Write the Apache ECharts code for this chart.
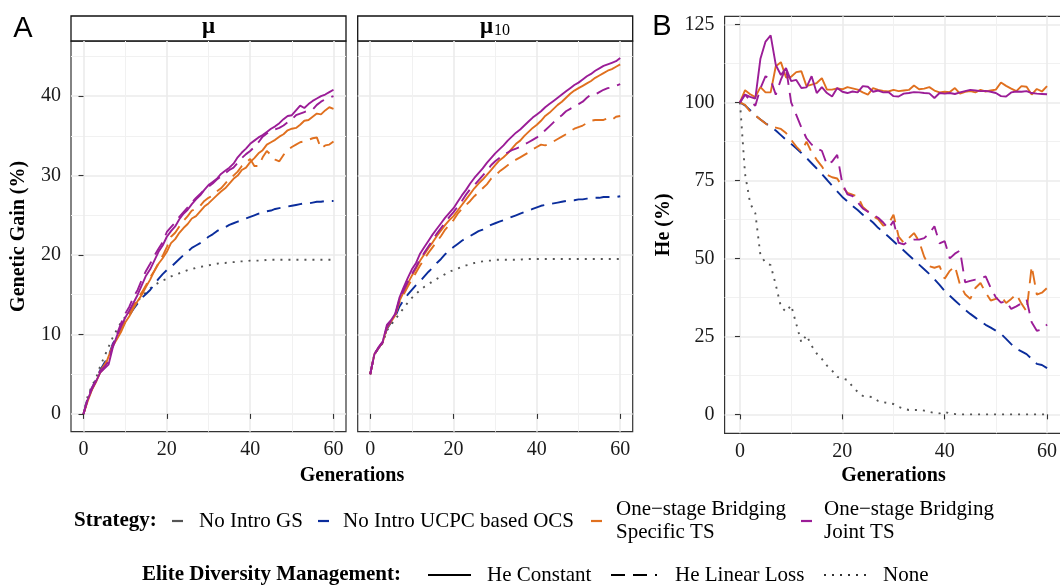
<!DOCTYPE html>
<html><head><meta charset="utf-8">
<script src="https://cdn.jsdelivr.net/npm/echarts@6/dist/echarts.min.js"></script>
<style>html,body{margin:0;padding:0;background:#fff}#c{width:1060px;height:586px}</style>
</head><body><div id="c"></div>
<script>
// ---------------- DATA ----------------
const generations = [0,1,2,3,4,5,6,7,8,9,10,11,12,13,14,15,16,17,18,19,20,21,22,23,24,25,26,27,28,29,30,31,32,33,34,35,36,37,38,39,40,41,42,43,44,45,46,47,48,49,50,51,52,53,54,55,56,57,58,59,60];
const xTickValues = [0,20,40,60];
const xMinorValues = [10,30,50];
const yTickValuesA = [0,10,20,30,40];
const yMinorValuesA = [5,15,25,35,45];
const yTickValuesB = [0,25,50,75,100,125];
const yMinorValuesB = [12.5,37.5,62.5,87.5,112.5];

// Panel A, facet mu : Genetic Gain (%)
const muGS = [0,2.2,3.5,4.5,6.0,7.2,8.4,9.6,10.6,11.5, 12.2,12.9,13.6,14.2,14.8,15.3,15.8,16.2,16.5,16.8, 17.0,17.3,17.5,17.7,17.9,18.1,18.2,18.4,18.5,18.6, 18.7,18.8,18.9,19.0,19.0,19.1,19.1,19.2,19.2,19.2, 19.3,19.3,19.3,19.3,19.4,19.4,19.4,19.4,19.4,19.4, 19.4,19.4,19.4,19.4,19.4,19.4,19.4,19.4,19.4,19.4, 19.4];
const muOCS = [0,2.0,3.2,4.3,5.5,6.4,7.2,8.8,9.7,10.6, 11.6,12.4,13.2,13.9,14.6,15.1,15.6,16.3,17.0,17.6, 18.1,18.5,19.0,19.5,20.0,20.4,20.9,21.2,21.5,21.9, 22.3,22.6,23.0,23.3,23.5,23.8,24.0,24.2,24.4,24.6, 24.8,25.0,25.2,25.3,25.5,25.6,25.8,25.9,26.0,26.1, 26.2,26.3,26.4,26.5,26.5,26.6,26.7,26.7,26.8,26.8, 26.8];
const muSpecificConst = [0,1.6,3.0,4.0,5.2,5.8,7.2,8.5,9.4,10.3, 11.5,12.3,13.3,14.2,15.0,16.0,16.9,18.0,18.9,19.6, 20.4,21.5,22.0,22.8,23.4,23.9,24.6,24.9,25.5,26.1, 26.5,27.0,27.5,28.0,28.4,29.0,29.6,30.0,30.7,31.0, 31.7,32.2,32.8,33.2,33.9,34.2,34.5,34.9,35.2,35.7, 35.9,36.0,36.4,36.9,37.0,37.4,37.8,37.7,38.2,38.6, 38.4];
const muSpecificLinear = [0,1.8,3.1,4.2,5.4,6.2,7.0,8.6,9.5,10.6, 11.8,12.8,13.6,14.5,15.3,16.2,17.2,18.0,19.0,19.9, 21.0,22.3,22.8,23.6,24.3,24.9,25.6,25.8,26.2,26.8, 27.2,27.5,28.0,28.4,29.0,29.6,30.0,30.5,31.2,31.6, 32.1,31.2,31.2,32.3,33.1,32.6,32.0,31.8,32.6,33.2, 33.6,33.9,34.2,34.3,34.5,34.7,34.8,33.4,33.8,33.9, 34.3];
const muJointConst = [0,1.8,3.1,4.1,5.2,5.7,6.2,8.3,9.8,11.0, 12.1,13.0,14.0,15.0,16.2,17.4,18.2,19.3,20.4,21.2, 22.3,23.0,23.6,24.5,25.2,25.7,26.4,27.0,27.5,28.2, 28.8,29.2,29.6,30.2,30.6,31.0,31.5,32.3,32.9,33.4, 34.0,34.4,34.8,35.1,35.5,35.9,36.2,36.6,37.1,37.5, 37.6,38.2,38.8,38.5,39.0,39.4,39.7,40.0,40.2,40.5, 40.8];
const muJointLinear = [0,1.9,3.3,4.2,5.4,5.9,6.6,8.6,10.0,11.4, 12.6,13.5,14.7,15.6,16.9,18.0,18.9,19.9,20.8,21.6, 22.9,23.5,24.1,24.8,25.4,26.0,26.6,27.2,27.7,28.2, 28.6,29.0,29.5,29.9,30.3,30.7,31.0,31.6,32.2,32.7, 33.1,33.6,34.2,34.9,35.3,35.6,35.8,36.0,36.3,36.7, 37.1,37.6,37.8,38.0,38.2,38.3,38.9,39.3,39.6,39.8, 40.0];

// Panel A, facet mu10 : Genetic Gain (%)
const mu10GS = [5.0,7.5,8.3,8.9,10.5,11.2,11.9,12.6,13.3,14.0, 14.6,15.1,15.6,16.0,16.3,16.7,17.0,17.3,17.6,17.9, 18.1,18.3,18.5,18.7,18.8,19.0,19.1,19.2,19.3,19.3, 19.4,19.4,19.4,19.4,19.4,19.4,19.4,19.5,19.5,19.5, 19.5,19.5,19.5,19.5,19.5,19.5,19.5,19.5,19.5,19.5, 19.5,19.5,19.5,19.5,19.5,19.5,19.5,19.5,19.5,19.5, 19.5];
const mu10OCS = [5.0,7.5,8.3,9.0,10.7,11.5,12.2,13.5,14.3,15.0, 15.6,16.2,16.7,17.3,17.9,18.4,19.0,19.5,20.1,20.6, 21.0,21.4,21.8,22.1,22.4,22.7,23.0,23.2,23.5,23.8, 24.0,24.2,24.4,24.6,24.8,25.0,25.2,25.4,25.6,25.8, 26.0,26.2,26.3,26.4,26.5,26.6,26.7,26.8,26.9,26.9, 27.0,27.0,27.1,27.1,27.2,27.2,27.3,27.3,27.3,27.3, 27.4];
const mu10SpecificConst = [5.0,7.5,8.3,9.0,10.9,11.6,12.4,14.2,15.3,16.4, 17.4,18.3,19.3,20.1,20.9,21.6,22.4,23.1,23.8,24.4, 24.9,25.6,26.3,27.0,27.7,28.4,29.0,29.5,30.1,30.7, 31.3,31.9,32.3,32.8,33.4,34.0,34.4,35.0,35.5,36.0, 36.4,36.9,37.5,37.9,38.4,38.9,39.3,39.8,40.3,40.7, 41.0,41.3,41.6,41.9,42.3,42.6,42.9,43.2,43.4,43.7, 44.0];
const mu10SpecificLinear = [5.0,7.5,8.3,9.0,10.8,11.6,12.4,14.0,15.0,16.0, 16.9,17.8,18.7,19.5,20.3,21.0,21.7,22.4,23.2,23.8, 24.4,25.2,25.8,26.3,26.8,27.4,27.9,28.4,28.9,29.6, 30.0,30.5,30.9,31.3,31.7,32.0,32.3,32.6,32.9,33.3, 33.6,33.9,33.8,34.0,34.3,34.6,34.9,35.2,35.6,35.9, 36.1,36.3,36.6,36.9,37.0,37.0,37.0,37.2,37.0,37.4, 37.5];
const mu10JointConst = [5.0,7.5,8.4,9.1,11.2,11.8,12.6,14.6,15.9,17.1, 18.2,19.0,20.2,21.0,21.8,22.6,23.3,24.0,24.7,25.3, 25.9,26.7,27.5,28.2,29.0,29.7,30.3,30.9,31.6,32.2, 32.8,33.3,33.8,34.4,34.9,35.4,35.8,36.3,36.8,37.3, 37.7,38.1,38.6,39.0,39.4,39.8,40.2,40.6,41.0,41.4, 41.7,42.1,42.5,42.8,43.2,43.5,43.8,44.0,44.2,44.4, 44.8];
const mu10JointLinear = [5.0,7.5,8.3,9.0,10.9,11.7,12.5,14.3,15.5,16.6, 17.6,18.5,19.5,20.3,21.1,21.9,22.7,23.4,24.1,24.8, 25.4,26.1,26.8,27.6,28.3,28.8,29.4,30.0,30.6,31.3, 31.8,32.2,32.6,32.9,33.2,33.4,33.6,33.9,34.2,34.5, 34.8,35.2,35.7,36.2,36.7,37.2,37.6,38.1,38.4,38.7, 39.0,39.3,39.8,40.2,40.2,40.5,40.8,41.0,41.1,41.3, 41.5];

// Panel B : He (%)
const heGS = [100,77,67.6,64.5,51.0,48.6,47.8,41.5,34.5,32.9, 35.0,29.0,23.0,25.4,22.0,19.5,17.8,15.6,14.0,12.0, 11.5,11.0,8.9,7.2,5.9,5.7,5.5,4.3,3.9,3.6, 3.3,2.4,1.8,1.4,1.4,1.4,1.2,0.8,0.4,0.3, 0.8,0.3,0.1,0,0,0,0,0,0,0, 0,0,0,0,0,0,0,0,0,0, 0];
const heOCS = [100,99.0,97.5,95.8,94.5,93.3,92.2,91.0,89.5,88.0, 86.7,85.3,83.8,82.2,80.5,78.8,77.0,75.2,73.3,71.5, 69.7,68.3,66.8,65.5,64.0,62.8,61.5,59.8,58.4,57.0, 55.5,54.0,52.5,51.0,49.5,48.0,46.5,45.0,43.3,41.5, 39.5,38.0,36.5,35.0,33.5,32.2,31.0,29.8,28.7,27.8, 26.8,25.8,24.2,22.5,21.0,20.2,19.3,17.8,16.2,15.8, 14.8];
const heSpecificConst = [100,103.9,102.6,101.7,104.9,103.2,103.2,111.6,112.9,108.0, 108.2,109.7,110.0,105.2,105.7,106.2,107.8,104.1,104.1,104.5, 104.2,104.9,104.5,104.1,103.2,102.5,104.6,104.0,103.7,103.5, 104.0,103.6,103.8,104.0,105.4,104.2,104.4,104.9,103.8,103.2, 103.4,103.3,104.6,102.8,103.4,103.6,103.2,104.0,103.5,103.8, 104.1,106.4,105.3,104.4,103.6,105.2,105.0,102.5,104.3,103.5, 105.2];
const heSpecificLinear = [100,99.2,97.0,95.8,94.5,93.2,92.3,91.9,91.5,90.2, 88.0,85.8,84.2,87.4,84.0,81.6,79.5,76.8,76.0,75.6, 73.0,71.0,70.4,69.9,66.5,65.0,63.5,62.6,60.5,61.0, 64.0,57.0,55.0,56.5,58.1,55.5,50.5,47.5,47.0,47.5, 43.5,46.0,47.5,41.5,38.5,37.0,40.5,42.1,39.0,36.5, 37.0,37.9,35.7,37.0,38.5,35.5,33.0,47.5,38.4,39.0, 40.5];
const heJointConst = [100,102.5,101.8,101.2,114.0,119.5,121.5,112.0,108.8,111.0, 106.8,107.2,104.6,104.8,108.4,103.0,104.9,103.0,101.9,104.6, 103.4,103.0,103.5,103.2,105.2,105.0,103.4,103.8,103.2,103.3, 102.0,101.9,102.8,103.0,103.3,103.2,103.0,102.9,101.4,103.0, 102.8,103.0,102.7,103.2,103.6,104.0,103.8,103.6,103.7,103.4, 103.0,102.0,101.9,103.2,103.5,103.4,103.6,103.0,102.8,102.7, 102.6];
const heJointLinear = [100,102.5,100.6,98.9,104.5,108.4,107.3,102.5,107.3,111.1, 100.0,96.0,92.0,88.5,86.5,85.3,84.5,80.0,81.0,83.2, 74.0,70.5,70.0,68.0,66.0,65.0,64.0,63.0,61.5,59.5, 62.0,55.0,54.5,55.5,56.0,56.0,56.5,58.0,60.3,54.8, 55.5,50.0,51.5,52.5,42.3,42.8,43.2,43.5,44.2,40.5, 37.5,35.8,36.3,33.8,34.6,35.6,36.8,29.5,26.8,27.2, 28.8];

const strategyLabels = ['No Intro GS','No Intro UCPC based OCS','One\u2212stage Bridging\nSpecific TS','One\u2212stage Bridging\nJoint TS'];
const managementLabels = ['He Constant','He Linear Loss','None'];

// ---------------- STYLE ----------------
const SERIF = "'Liberation Serif','Times New Roman',serif";
const SANS = "'Liberation Sans',Arial,sans-serif";
const COL = {gs:'#555555', ocs:'#0b2d9c', specific:'#e0701f', joint:'#9b1d97'};
const DASH = {solid:'solid', dashed:[14,8], dotted:[2,6]};
const TXT = '#1a1a1a';

const gridsPx = [
  {left:71, top:41, width:275, height:390.7},
  {left:357.7, top:41, width:275, height:390.7},
  {left:724.6, top:16.3, width:337.8, height:417}
];

const panelSeries = [
  [[muGS,'gs','dotted'],[muOCS,'ocs','dashed'],[muSpecificConst,'specific','solid'],[muSpecificLinear,'specific','dashed'],[muJointConst,'joint','solid'],[muJointLinear,'joint','dashed']],
  [[mu10GS,'gs','dotted'],[mu10OCS,'ocs','dashed'],[mu10SpecificConst,'specific','solid'],[mu10SpecificLinear,'specific','dashed'],[mu10JointConst,'joint','solid'],[mu10JointLinear,'joint','dashed']],
  [[heGS,'gs','dotted'],[heOCS,'ocs','dashed'],[heSpecificConst,'specific','solid'],[heSpecificLinear,'specific','dashed'],[heJointConst,'joint','solid'],[heJointLinear,'joint','dashed']]
];

const grid = gridsPx.map(g => Object.assign({show:true, borderColor:'#333', borderWidth:1.2, backgroundColor:'#fff', containLabel:false, outerBoundsMode:'none'}, g));

const xAxis = [], yAxis = [];
gridsPx.forEach((g, gi) => {
  const isB = gi === 2;
  xAxis.push({
    type:'value', gridIndex:gi, min:-3, max:63, position:'bottom',
    axisLine:{show:false},
    axisTick:{show:true, length:5, lineStyle:{color:'#333', width:1.1}, customValues:xTickValues},
    axisLabel:{show:true, customValues:xTickValues, fontFamily:SERIF, fontSize:20, color:TXT, margin:8},
    splitLine:{show:true, lineStyle:{color:'#ebebeb', width:1.6}},
    name: isB ? 'Generations' : '', nameLocation:'middle', nameGap:32,
    nameTextStyle:{fontFamily:SERIF, fontSize:20, fontWeight:'bold', color:'#000'}
  });
  xAxis.push({
    type:'value', gridIndex:gi, min:-3, max:63, position:'top',
    axisLine:{show:false}, axisTick:{show:false, customValues:xMinorValues}, axisLabel:{show:false, customValues:xMinorValues},
    splitLine:{show:true, lineStyle:{color:'#f1f1f1', width:1}}
  });
  const yt = isB ? yTickValuesB : yTickValuesA;
  const ym = isB ? yMinorValuesB : yMinorValuesA;
  const ymin = isB ? -6.08 : -2.24;
  const ymax = isB ? 127.6 : 46.94;
  yAxis.push({
    type:'value', gridIndex:gi, min:ymin, max:ymax, position:'left',
    axisLine:{show:false},
    axisTick:{show: gi !== 1, length:5, lineStyle:{color:'#333', width:1.1}, customValues:yt},
    axisLabel:{show: gi !== 1, customValues:yt, fontFamily:SERIF, fontSize:20, color:TXT, margin:10},
    splitLine:{show:true, lineStyle:{color:'#ebebeb', width:1.6}},
    name: gi === 0 ? 'Genetic Gain (%)' : (isB ? 'He (%)' : ''),
    nameLocation:'middle', nameGap: isB ? 51 : 42, nameRotate:90,
    nameTextStyle:{fontFamily:SERIF, fontSize:20, fontWeight:'bold', color:'#000'}
  });
  yAxis.push({
    type:'value', gridIndex:gi, min:ymin, max:ymax, position:'right',
    axisLine:{show:false}, axisTick:{show:false, customValues:ym}, axisLabel:{show:false, customValues:ym},
    splitLine:{show:true, lineStyle:{color:'#f1f1f1', width:1}}
  });
});

const series = [];
panelSeries.forEach((list, gi) => {
  list.forEach(([vals, strat, dash]) => {
    series.push({
      type:'line', xAxisIndex:gi*2, yAxisIndex:gi*2, silent:true,
      data: generations.map((g, i) => [g, vals[i]]),
      showSymbol:false, symbol:'none', smooth:false, clip:true,
      lineStyle:{color:COL[strat], width: dash==='dotted' ? 1.9 : 1.9, type:DASH[dash], cap:'butt'},
      animation:false
    });
  });
});

// ---------------- GRAPHICS: strips, panel letters, legend ----------------
const T = (x, y, text, opt) => Object.assign({type:'text', x, y, style:Object.assign({text, fontFamily:SERIF, fontSize:21, fill:'#000', align:'left', verticalAlign:'middle'}, opt||{})});
const L = (x1, x2, y, color, dash, w) => ({type:'line', shape:{x1, y1:y, x2, y2:y}, style:{stroke:color, lineWidth:w||2, lineDash:dash||null}});

const graphic = [
  {type:'rect', shape:{x:gridsPx[0].left, y:16, width:gridsPx[0].width, height:25}, style:{fill:'#fff', stroke:'#111', lineWidth:1.3}},
  {type:'rect', shape:{x:gridsPx[1].left, y:16, width:gridsPx[1].width, height:25}, style:{fill:'#fff', stroke:'#111', lineWidth:1.3}},
  T(208.5, 27.5, '\u03bc', {fontWeight:'bold', fontSize:23, align:'center'}),
  T(486.5, 27.5, '\u03bc', {fontWeight:'bold', fontSize:23, align:'center'}),
  T(494, 31, '10', {fontSize:16}),
  T(23, 29, 'A', {fontFamily:SANS, fontSize:29, align:'center'}),
  T(662, 27, 'B', {fontFamily:SANS, fontSize:29, align:'center'}),
  T(352, 476, 'Generations', {fontWeight:'bold', fontSize:20, align:'center'}),
  // Strategy legend
  T(74, 521, 'Strategy:', {fontWeight:'bold'}),
  L(172, 183, 521, COL.gs, null, 2.2), T(199, 521, strategyLabels[0]),
  L(318, 329, 521, COL.ocs, null, 2.2), T(343, 521, strategyLabels[1]),
  L(591, 602, 521, COL.specific, null, 2.2), T(616, 521, strategyLabels[2], {lineHeight:23}),
  L(801, 812, 521, COL.joint, null, 2.2), T(824, 521, strategyLabels[3], {lineHeight:23}),
  // Management legend
  T(142, 575, 'Elite Diversity Management:', {fontWeight:'bold'}),
  L(428, 471, 575, '#000', null, 1.8), T(487, 575, managementLabels[0]),
  L(611, 657, 575, '#000', [14,8], 1.8), T(675, 575, managementLabels[1]),
  L(824, 869, 575, '#333', [2,6], 1.9), T(883, 575, managementLabels[2])
];

const chart = echarts.init(document.getElementById('c'), null, {renderer:'canvas', width:1060, height:586});
chart.setOption({
  backgroundColor:'#fff', animation:false,
  grid, xAxis, yAxis, series, graphic
});
</script>
</body></html>
